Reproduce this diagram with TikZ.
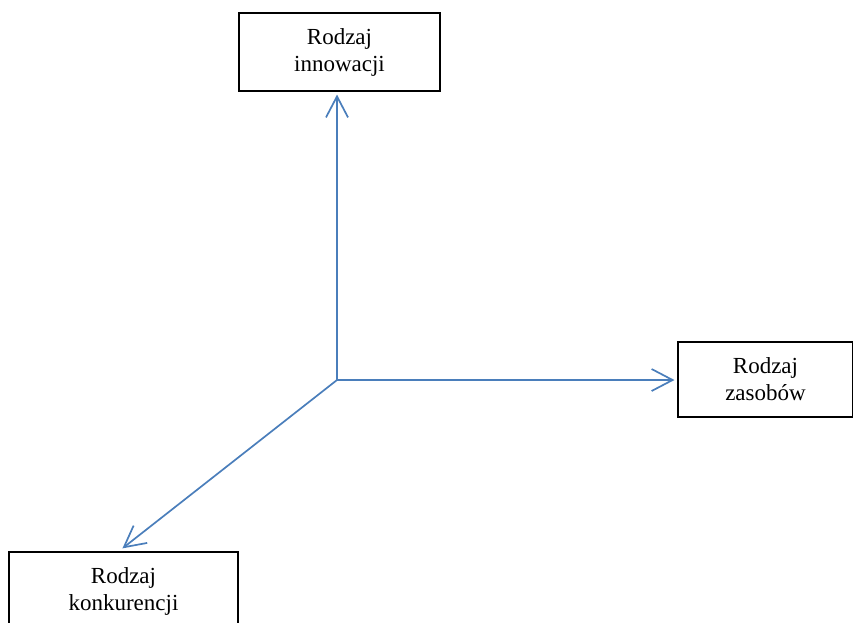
\documentclass[tikz,border=0pt]{standalone}
\usepackage{fontspec}
\setmainfont{Liberation Serif}
\usetikzlibrary{arrows.meta}
\definecolor{axisblue}{HTML}{4A7EBB}
\tikzset{
  labelbox/.style={draw=black, line width=1.1pt, fill=white, align=center, inner sep=0pt,
    font=\fontsize{23}{27}\selectfont},
  axisarrow/.style={draw=axisblue, line width=1.7pt,
    -{Straight Barb[length=21pt,width=22pt,line width=1.7pt]}, shorten >=3pt}
}
\begin{document}
\begin{tikzpicture}[x=1pt,y=-1pt]
\useasboundingbox (0,0) rectangle (853,622);
\node[labelbox, minimum width=201pt, minimum height=78pt] (top) at (339.5,52) {Rodzaj\\innowacji};
\node[labelbox, minimum width=175pt, minimum height=75pt] (right) at (765.5,379.5) {Rodzaj\\zasobów};
\node[labelbox, minimum width=229pt, minimum height=78pt] (bot) at (123.5,591) {Rodzaj\\konkurencji};
\coordinate (o) at (337,380);
\draw[axisarrow] (o) -- (o |- top.south);
\draw[axisarrow] (o) -- (o -| right.west);
\draw[axisarrow, shorten >=5pt] (o) -- ([xshift=-5pt]bot.north);
\end{tikzpicture}
\end{document}
